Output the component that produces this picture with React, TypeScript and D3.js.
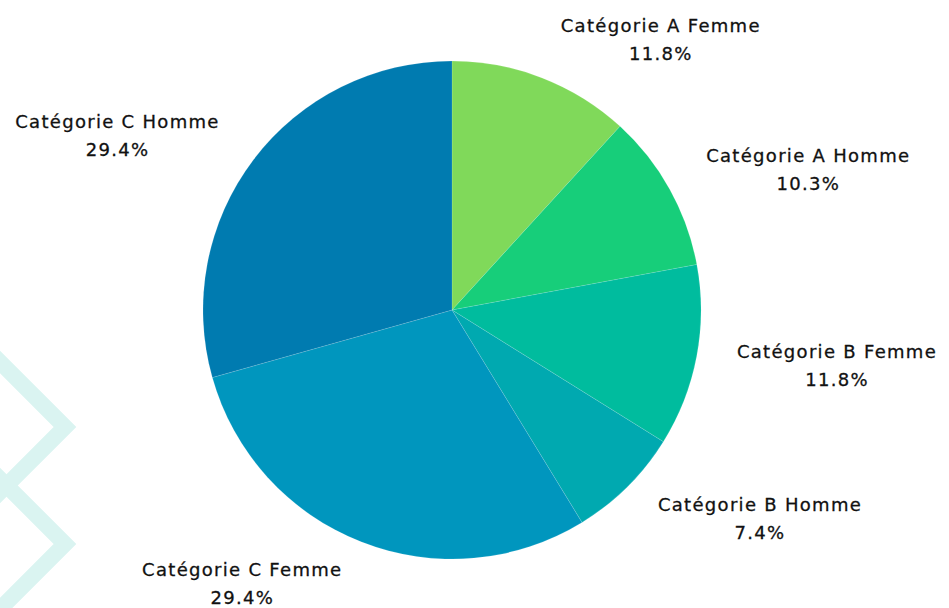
import * as d3 from "d3";
import { useRef, useEffect } from "react";

const categories = [
  "Catégorie A Femme",
  "Catégorie A Homme",
  "Catégorie B Femme",
  "Catégorie B Homme",
  "Catégorie C Femme",
  "Catégorie C Homme",
];
const values = [11.8, 10.3, 11.8, 7.4, 29.4, 29.4];
const colors = ["#80d95a", "#17ce7a", "#00bc9e", "#00a9b0", "#0096be", "#007bb0"];

export default function App() {
  const ref = useRef<SVGSVGElement>(null);
  const width = 949;
  const height = 608;
  const cx = 452;
  const cy = 310;
  const radius = 249;

  useEffect(() => {
    const svg = d3.select(ref.current);
    svg.selectAll("*").remove();

    // décor en arrière-plan
    const deco = svg.append("g").attr("fill", "none").attr("stroke", "#daf4f1").attr("stroke-width", 16);
    [427, 544].forEach((yc) => {
      const h = 73;
      const xc = -8;
      deco.append("path").attr("d", `M${xc},${yc - h}L${xc + h},${yc}L${xc},${yc + h}L${xc - h},${yc}Z`);
    });

    const data = categories.map((c, i) => ({ label: c, value: values[i], color: colors[i] }));
    const pie = d3.pie<any>().sort(null).value((d) => d.value);
    const arcs = pie(data);
    const arc = d3.arc<any>().innerRadius(0).outerRadius(radius);

    const g = svg.append("g").attr("transform", `translate(${cx},${cy})`);
    g.selectAll("path.slice")
      .data(arcs)
      .join("path")
      .attr("class", "slice")
      .attr("d", arc)
      .attr("fill", (d) => d.data.color)
      .attr("stroke", "#ffffff")
      .attr("stroke-opacity", 0.25)
      .attr("stroke-width", 0.5);

    const labelR = radius * 1.14;
    const labels = g.append("g")
      .attr("font-family", "'DejaVu Sans', sans-serif")
      .attr("font-size", 18)
      .attr("letter-spacing", 1.3)
      .attr("fill", "#111")
      .attr("stroke", "#111")
      .attr("stroke-width", 0.3);

    arcs.forEach((d) => {
      const a = (d.startAngle + d.endAngle) / 2;
      const ax = Math.sin(a) * labelR;
      const ay = -Math.cos(a) * labelR;
      const center = ay - 8 * Math.cos(a) + 2;
      const right = Math.sin(a) >= 0;
      const lg = labels.append("g");
      const title = lg.append("text")
        .attr("y", center - 8)
        .attr("text-anchor", "middle")
        .text(d.data.label);
      const w = (title.node() as SVGTextElement).getComputedTextLength();
      const mx = right ? ax + 6 + w / 2 : ax - 6 - w / 2;
      title.attr("x", mx);
      lg.append("text")
        .attr("x", mx)
        .attr("y", center + 20)
        .attr("text-anchor", "middle")
        .text(d3.format(".1f")(d.data.value) + "%");
    });
  }, []);

  return (
    <svg
      ref={ref}
      width={width}
      height={height}
      style={{ position: "absolute", left: 0, top: 0, background: "#fff" }}
    />
  );
}
